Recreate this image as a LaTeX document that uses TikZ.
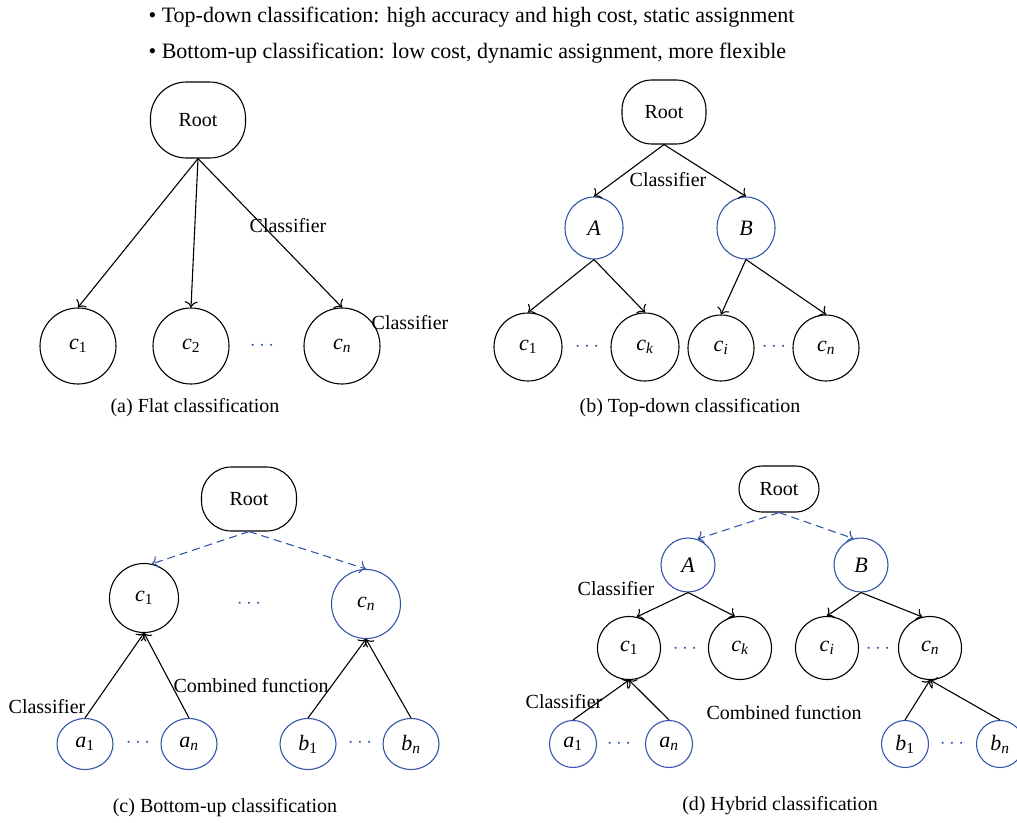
\documentclass[tikz,border=0pt]{standalone}
\usepackage{fontspec}
\setmainfont{Liberation Serif}
\usetikzlibrary{shapes.geometric}
\usetikzlibrary{arrows.meta}

\definecolor{nodeblue}{RGB}{52,86,170}

\newcommand{\vlab}[2]{\textit{#1}\textsubscript{#2}}

\tikzset{
  rootbox/.style={draw,rectangle,rounded corners=#1,inner sep=0pt},
  leaf/.style={draw,ellipse,inner sep=0pt,minimum width=#1,minimum height=#1,font=\fontsize{22}{26}\selectfont},
  bleaf/.style={leaf=#1,draw=nodeblue},
  dotsnode/.style={text=nodeblue,font=\fontsize{22}{26}\selectfont},
  dashlink/.style={->,nodeblue,dash pattern=on 8pt off 5pt},
  lbl/.style={inner sep=0pt}
}

\begin{document}
\begin{tikzpicture}[x=1pt,y=-1pt,line width=1.1pt,>={To[length=6pt,width=13pt]},font=\fontsize{20}{24}\selectfont]
                \useasboundingbox (0,0) rectangle (1017,822);

                \node[lbl,anchor=west,font=\fontsize{22}{26}\selectfont] (head1) at (148,17) {\textbullet{} Top-down classification: high accuracy and high cost, static assignment};
                \node[lbl,anchor=west,font=\fontsize{22}{26}\selectfont] (head2) at (148,53) {\textbullet{} Bottom-up classification: low cost, dynamic assignment, more flexible};

                % (a)
                \node[rootbox=36pt,minimum width=95pt,minimum height=76pt] (aRoot) at (198,120) {Root};
                \node[leaf=76pt] (ac1) at (78,346) {\vlab{c}{1}};
                \node[leaf=76pt] (ac2) at (191,346) {\vlab{c}{2}};
                \node[leaf=76pt] (acn) at (342,346) {\vlab{c}{\textit{n}}};
                \node[dotsnode] (adots) at (262,346) {$\cdots$};

                \draw[->] (aRoot.south) -- (ac1.north);
                \draw[->] (aRoot.south) -- (ac2.north);
                \draw[->] (aRoot.south) -- (acn.north);

                \node[lbl] (aclass1) at (288,226) {Classifier};
                \node[lbl] (aclass2) at (410,323) {Classifier};
                \node[lbl] (acap) at (195,408) {(a) Flat classification};

                % (b)
                \node[rootbox=30pt,minimum width=84pt,minimum height=64pt] (bRoot) at (664,112) {Root};
                \node[bleaf=58pt,minimum height=62pt] (bA) at (594,228) {\textit{A}};
                \node[bleaf=58pt,minimum height=62pt] (bB) at (746,228) {\textit{B}};
                \node[leaf=68pt] (bc1) at (528,347) {\vlab{c}{1}};
                \node[leaf=68pt] (bck) at (645,347) {\vlab{c}{\textit{k}}};
                \node[leaf=66pt] (bci) at (721,348) {\vlab{c}{\textit{i}}};
                \node[leaf=66pt] (bcn) at (826,348) {\vlab{c}{\textit{n}}};
                \node[dotsnode] (bdots1) at (587,347) {$\cdots$};
                \node[dotsnode] (bdots2) at (774,347) {$\cdots$};

                \draw[->] (bRoot.south) -- (bA.north);
                \draw[->] (bRoot.south) -- (bB.north);
                \draw[->] (bA.south) -- (bc1.north);
                \draw[->] (bA.south) -- (bck.north);
                \draw[->] (bB.south) -- (bci.north);
                \draw[->] (bB.south) -- (bcn.north);

                \node[lbl] (bclass) at (668,180) {Classifier};
                \node[lbl] (bcap) at (690,408) {(b) Top-down classification};

                % (c)
                \node[rootbox=30pt,minimum width=95pt,minimum height=64pt] (cRoot) at (249,499) {Root};
                \node[leaf=69pt] (cc1) at (144,598) {\vlab{c}{1}};
                \node[bleaf=69pt] (ccn) at (366,604) {\vlab{c}{\textit{n}}};
                \node[dotsnode] (cdots) at (249,604) {$\cdots$};
                \node[bleaf=56pt,minimum height=51pt] (ca1) at (85,744) {\vlab{a}{1}};
                \node[bleaf=56pt,minimum height=51pt] (can) at (189,744) {\vlab{a}{\textit{n}}};
                \node[bleaf=56pt,minimum height=51pt] (cb1) at (308,744) {\vlab{b}{1}};
                \node[bleaf=56pt,minimum height=51pt] (cbn) at (411,744) {\vlab{b}{\textit{n}}};
                \node[dotsnode] (cdots2) at (138,743) {$\cdots$};
                \node[dotsnode] (cdots3) at (360,743) {$\cdots$};

                \draw[dashlink] (cRoot.south) -- (cc1.77);
                \draw[dashlink] (cRoot.south) -- (ccn.north);
                \draw[->] (ca1.north) -- (cc1.south);
                \draw[->] (can.north) -- (cc1.south);
                \draw[->] (cb1.north) -- (ccn.south);
                \draw[->] (cbn.north) -- (ccn.south);

                \node[lbl] (cclass) at (47,707) {Classifier};
                \node[lbl] (ccomb) at (251,686) {Combined function};
                \node[lbl] (ccap) at (225,808) {(c) Bottom-up classification};

                % (d)
                \node[rootbox=23pt,minimum width=80pt,minimum height=46pt] (dRoot) at (779,489) {Root};
                \node[bleaf=54pt] (dA) at (688,565) {\textit{A}};
                \node[bleaf=54pt] (dB) at (861,565) {\textit{B}};
                \node[leaf=63pt] (dc1) at (629,648) {\vlab{c}{1}};
                \node[leaf=63pt] (dck) at (740,648) {\vlab{c}{\textit{k}}};
                \node[leaf=63pt] (dci) at (827,648) {\vlab{c}{\textit{i}}};
                \node[leaf=63pt] (dcn) at (930,648) {\vlab{c}{\textit{n}}};
                \node[dotsnode] (ddots1) at (685,649) {$\cdots$};
                \node[dotsnode] (ddots2) at (878,649) {$\cdots$};
                \node[bleaf=47pt] (da1) at (573,744) {\vlab{a}{1}};
                \node[bleaf=47pt] (dan) at (669,744) {\vlab{a}{\textit{n}}};
                \node[bleaf=47pt] (db1) at (905,744) {\vlab{b}{1}};
                \node[bleaf=47pt] (dbn) at (1000,744) {\vlab{b}{\textit{n}}};
                \node[dotsnode] (ddots3) at (619,744) {$\cdots$};
                \node[dotsnode] (ddots4) at (952,744) {$\cdots$};

                \draw[dashlink] (dRoot.south) -- (dA.70);
                \draw[dashlink] (dRoot.south) -- (dB.106);
                \draw[->] (dA.south) -- (dc1.76);
                \draw[->] (dA.south) -- (dck.99);
                \draw[->] (dB.south) -- (dci.north);
                \draw[->] (dB.south) -- (dcn.104);
                \draw[->] (da1.north) -- (dc1.south);
                \draw[->] (dan.north) -- (dc1.south);
                \draw[->] (db1.north) -- (dcn.south);
                \draw[->] (dbn.north) -- (dcn.south);

                \node[lbl] (dclass1) at (616,589) {Classifier};
                \node[lbl] (dclass2) at (564,702) {Classifier};
                \node[lbl] (dcomb) at (784,713) {Combined function};
                \node[lbl] (dcap) at (780,806) {(d) Hybrid classification};
\end{tikzpicture}
\end{document}
